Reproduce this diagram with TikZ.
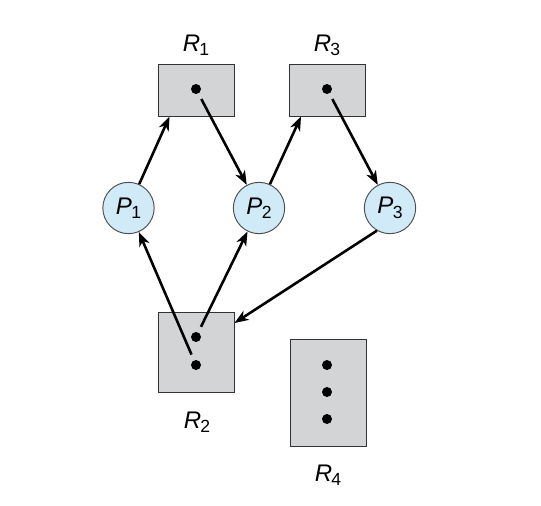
\documentclass[tikz,border=0pt]{standalone}
\usepackage{fontspec}
\setmainfont{Liberation Sans}
\usetikzlibrary{arrows.meta}
\definecolor{resgray}{RGB}{211,212,214}
\definecolor{procblue}{RGB}{208,234,248}
\newcommand{\vlab}[2]{\textit{#1}\kern-0.03em\raisebox{-0.35ex}{\fontsize{15}{15}\selectfont #2}}

\begin{document}
\begin{tikzpicture}[
        x=0.03cm, y=-0.03cm,
        every node/.style={font=\fontsize{20.5}{24}\selectfont},
        res/.style={rectangle, draw=black!80, fill=resgray, line width=0.8pt, minimum width=2.28cm},
        proc/.style={circle, draw=black!70, fill=procblue, line width=0.8pt, minimum size=1.54cm, inner sep=0pt},
        inst/.style={circle, fill=black, inner sep=0pt, minimum size=0.3cm, outer sep=0.19cm},
        edge/.style={-{Stealth[length=12pt, width=9pt, inset=3.5pt]}, line width=2.2pt}
    ]
      \useasboundingbox (0,0) rectangle (541,505);

      % Resources
      \node[res, minimum height=1.56cm] (r1) at (196,90) {};
      \node[res, minimum height=1.56cm] (r3) at (327.5,90) {};
      \node[res, minimum height=2.4cm] (r2) at (196,352) {};
      \node[res, minimum height=3.21cm] (r4) at (328,392.5) {};
      \node[anchor=base] (r1lab) at (196,51) {\vlab{R}{1}};
      \node[anchor=base] (r3lab) at (327,51) {\vlab{R}{3}};
      \node[anchor=base] (r2lab) at (197,428) {\vlab{R}{2}};
      \node[anchor=base] (r4lab) at (328,481) {\vlab{R}{4}};

      % Instances
      \node[inst] (r1d) at (196,89) {};
      \node[inst] (r3d) at (327,89) {};
      \node[inst] (r2a) at (196,337) {};
      \node[inst] (r2b) at (196,365) {};
      \node[inst] (r4a) at (327,365) {};
      \node[inst] (r4b) at (327,392) {};
      \node[inst] (r4c) at (327,419) {};

      % Processes
      \node[proc] (p1) at (128.5,208) {\vlab{P}{1}};
      \node[proc] (p2) at (259,208) {\vlab{P}{2}};
      \node[proc] (p3) at (390,208) {\vlab{P}{3}};

      % Request and assignment edges
      \draw[edge] (p1) -- (r1.225);
      \draw[edge] (r1d) -- (p2);
      \draw[edge] (p2) -- (r3.225);
      \draw[edge] (r3d) -- (p3);
      \draw[edge] (p3.240) -- (r2.37);
      \draw[edge] (r2b) -- (p1);
      \draw[edge] (r2a) -- (p2);
    \end{tikzpicture}
\end{document}
